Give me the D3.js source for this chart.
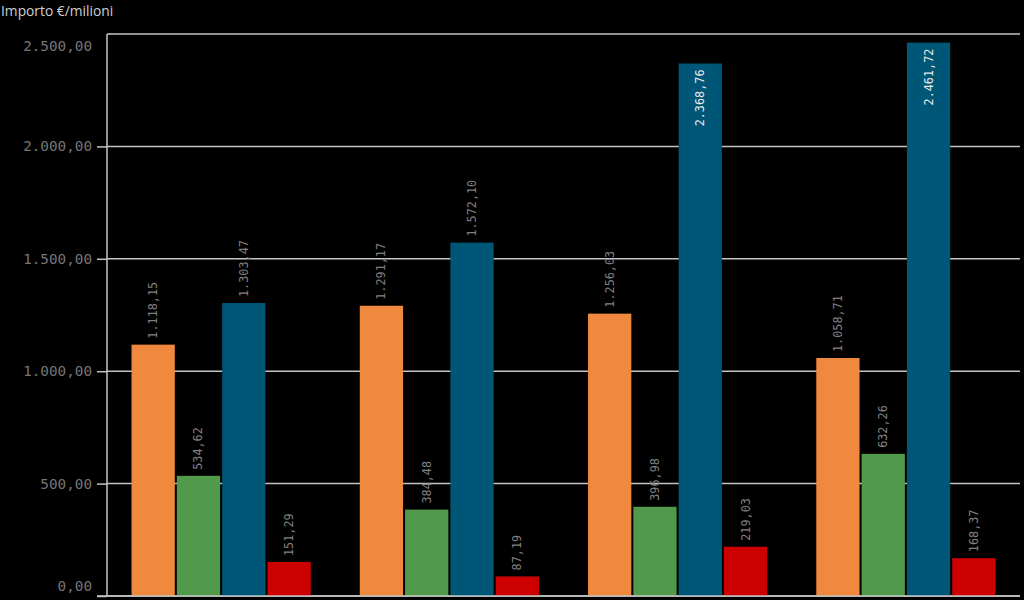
<!DOCTYPE html>
<html><head><meta charset="utf-8">
<script src="https://cdn.jsdelivr.net/npm/d3@7"></script>
<style>html,body{margin:0;padding:0;background:#000;}svg{display:block;}</style>
</head><body><svg id="c" width="1024" height="600"></svg>
<script>
const groups = ["G1", "G2", "G3", "G4"];
const seriesNames = ["S1", "S2", "S3", "S4"];
const orangeValues = [1118.15, 1291.17, 1256.03, 1058.71];
const greenValues = [534.62, 384.48, 396.98, 632.26];
const blueValues = [1303.47, 1572.10, 2368.76, 2461.72];
const redValues = [151.29, 87.19, 219.03, 168.37];
const yTicks = [0, 500, 1000, 1500, 2000, 2500];
const colors = ["#F0883E", "#519A4C", "#005677", "#CC0000"];
const yTitle = "Importo €/milioni";

const seriesValues = [orangeValues, greenValues, blueValues, redValues];
const loc = d3.formatLocale({decimal: ",", thousands: ".", grouping: [3], currency: ["€", ""]});
const fmt = loc.format(",.2f");

const svg = d3.select("#c");
const mLeft = 107, mRight = 1020, mTop = 34, mBottom = 596;

const x0 = d3.scaleBand().domain(groups).range([mLeft, mRight]).paddingInner(0.215).paddingOuter(0.1075);
const x1 = d3.scaleBand().domain(seriesNames).range([0, x0.bandwidth()]).paddingInner(0.045);
const y = d3.scaleLinear().domain([0, 2500]).range([mBottom, mTop]);

// grid
svg.append("g").selectAll("line").data(yTicks).join("line")
  .attr("x1", mLeft).attr("x2", mRight)
  .attr("y1", d => y(d)).attr("y2", d => y(d))
  .attr("stroke", "#c4c4c4").attr("stroke-width", 1.5);

// y axis
const yAxis = svg.append("g").attr("transform", `translate(${mLeft},0)`)
  .call(d3.axisLeft(y).tickValues(yTicks).tickFormat(fmt).tickSize(10).tickPadding(5));
yAxis.select(".domain").attr("stroke", "#c4c4c4").attr("stroke-width", 1.5).attr("d", `M0,${mTop}V${mBottom}`);
yAxis.selectAll(".tick line").attr("stroke", "#c4c4c4").attr("stroke-width", 1.5)
  .attr("x2", d => d === 2500 ? 0 : -10);
yAxis.selectAll(".tick text").attr("fill", "#767676").attr("font-family", "DejaVu Sans Mono").attr("font-size", 14.3)
  .attr("y", d => d === 2500 ? 12 : (d === 0 ? -10 : 0));

// bars
const data = [];
groups.forEach((g, gi) => seriesNames.forEach((s, si) => data.push({g, s, si, v: seriesValues[si][gi]})));

svg.append("g").selectAll("rect").data(data).join("rect")
  .attr("x", d => x0(d.g) + x1(d.s))
  .attr("width", x1.bandwidth())
  .attr("y", d => y(d.v))
  .attr("height", d => y(0) - y(d.v))
  .attr("fill", d => colors[d.si]);

// baseline
svg.append("line").attr("x1", mLeft - 10).attr("x2", mRight).attr("y1", mBottom).attr("y2", mBottom)
  .attr("stroke", "#c4c4c4").attr("stroke-width", 1.5);

// labels
svg.append("g").selectAll("text").data(data).join("text")
  .attr("transform", d => {
    const cx = x0(d.g) + x1(d.s) + x1.bandwidth() / 2 + 4;
    const inside = y(d.v) < 110;
    const yy = inside ? y(d.v) + 6 : y(d.v) - 6;
    return `translate(${cx},${yy}) rotate(-90)`;
  })
  .attr("text-anchor", d => y(d.v) < 110 ? "end" : "start")
  .attr("fill", d => y(d.v) < 110 ? "#e8e8e8" : "#808080")
  .attr("font-family", "DejaVu Sans Mono")
  .attr("font-size", 11.8)
  .text(d => fmt(d.v));

// title
svg.append("text").attr("x", 1).attr("y", 16).attr("fill", "#cfcfcf")
  .attr("font-family", "Open Sans").attr("font-size", 13.8).text(yTitle);
</script></body></html>
